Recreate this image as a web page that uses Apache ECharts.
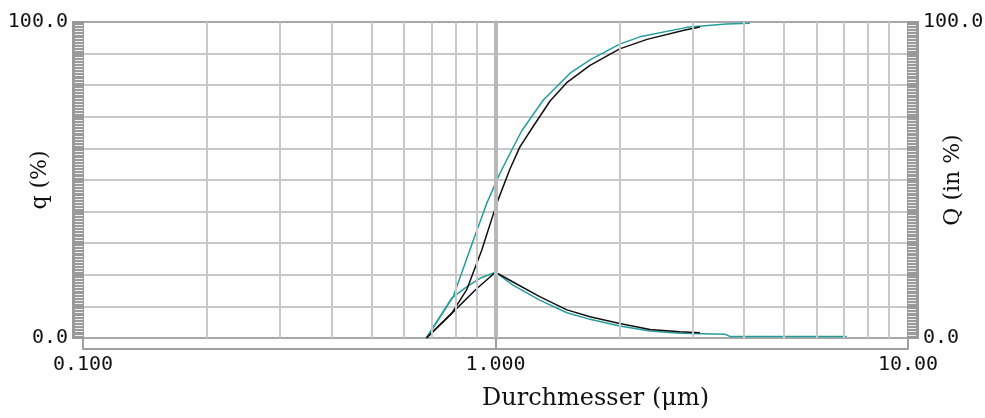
<!DOCTYPE html>
<html>
<head>
<meta charset="utf-8">
<script src="https://cdn.jsdelivr.net/npm/echarts@6/dist/echarts.min.js"></script>
<style>
  html, body { margin: 0; padding: 0; background: #fff; }
  #chart { width: 985px; height: 418px; }
</style>
</head>
<body>
<div id="chart"></div>
<script>
// particle size distribution, density q and cumulative Q
var tealQdX = [0.68, 0.783, 0.851, 0.917, 1.0, 1.10, 1.28, 1.49, 1.695, 2.0, 2.37, 2.8, 3.6, 3.7, 7.1];
var tealQdY = [0, 12.6, 16.2, 18.9, 20.8, 16.8, 12.0, 8.0, 5.9, 3.8, 2.2, 1.5, 1.2, 0.5, 0.5];
var blackQdX = [0.68, 0.783, 0.90, 1.0, 1.10, 1.28, 1.49, 1.695, 2.0, 2.37, 2.8, 3.13];
var blackQdY = [0, 7.8, 15.6, 20.8, 17.8, 13.1, 8.9, 6.7, 4.6, 2.7, 2.0, 1.7];
var tealCumX = [0.68, 0.79, 0.884, 0.952, 1.025, 1.095, 1.157, 1.306, 1.516, 1.695, 2.0, 2.24, 2.91, 3.63, 4.14];
var tealCumY = [0, 13.1, 31.0, 42.6, 52.1, 59.5, 65.5, 75.3, 83.8, 88.0, 93.0, 95.3, 98.3, 99.4, 99.6];
var blackCumX = [0.68, 0.783, 0.851, 0.926, 1.007, 1.084, 1.146, 1.235, 1.356, 1.488, 1.695, 2.0, 2.33, 2.88, 3.13];
var blackCumY = [0, 7.8, 15.2, 27.8, 42.6, 53.5, 60.5, 67.0, 75.0, 80.8, 86.3, 91.5, 94.5, 97.5, 98.4];

var minorGridX = [0.2, 0.3, 0.4, 0.5, 0.6, 0.7, 0.8, 0.9, 2, 3, 4, 5, 6, 7, 8, 9];
var xTickLabels = { '0.1': '0.100', '1': '1.000', '10': '10.00' };

var TEAL = '#259d9d';
var BLACK = '#111111';
var GRID = '#c8c8c8';
var monoFont = '"DejaVu Sans Mono", monospace';
var serifFont = '"DejaVu Serif", serif';

function pairs(xs, ys) {
  var out = [];
  for (var i = 0; i < xs.length; i++) out.push([xs[i], ys[i]]);
  return out;
}

var gridLines = minorGridX.map(function (v) {
  return { xAxis: v, lineStyle: { color: GRID, width: 2, type: 'solid' } };
});
gridLines.push({ xAxis: 1, lineStyle: { color: '#b8b8b8', width: 4, type: 'solid' } });

function lineSeries(data, color, z) {
  return {
    type: 'line', data: data, showSymbol: false, symbol: 'none',
    lineStyle: { color: color, width: 1.5 }, z: z, silent: true
  };
}

var yLabelFmt = function (v) { return (v === 0 || v === 100) ? v.toFixed(1) : ''; };
var hLineColors = ['#a8a8a8', GRID, GRID, GRID, GRID, GRID, GRID, GRID, GRID, GRID, '#a8a8a8'];

var chart = echarts.init(document.getElementById('chart'));
chart.setOption({
  animation: false,
  backgroundColor: '#fff',
  grid: { left: 83, right: 77, top: 22, bottom: 80, containLabel: false, outerBoundsMode: 'none' },
  xAxis: {
    type: 'log', logBase: 10, min: 0.1, max: 10,
    position: 'bottom', offset: 11,
    axisLine: { show: true, onZero: false, lineStyle: { color: '#a0a0a0', width: 2 } },
    axisTick: { show: true, inside: true, length: 11, lineStyle: { color: '#a0a0a0', width: 2 } },
    splitLine: { show: false },
    axisLabel: {
      margin: 6, color: '#111', fontFamily: monoFont, fontSize: 20,
      formatter: function (v) { return xTickLabels[String(v)] || ''; }
    },
    name: 'Durchmesser (\u03bcm)', nameLocation: 'middle', nameGap: 38, nameMoveOverlap: false,
    nameTextStyle: { fontFamily: serifFont, fontSize: 24, color: '#111', padding: [0, 0, 0, 200] }
  },
  yAxis: [
    {
      type: 'value', min: 0, max: 100, interval: 10, position: 'left',
      axisLine: { show: true, lineStyle: { color: '#999', width: 2 } },
      axisTick: { show: true, length: 11, lineStyle: { color: '#999', width: 2 } },
      minorTick: { show: true, splitNumber: 10, length: 8, lineStyle: { color: '#eeeeee', width: 1 } },
      splitLine: { show: true, lineStyle: { color: hLineColors, width: 2 } },
      axisLabel: { margin: 15, color: '#111', fontFamily: monoFont, fontSize: 20, formatter: yLabelFmt },
      name: 'q (%)', nameLocation: 'middle', nameGap: 32, nameRotate: 90, nameMoveOverlap: false,
      nameTextStyle: { fontFamily: serifFont, fontSize: 22, color: '#111' }
    },
    {
      type: 'value', min: 0, max: 100, interval: 10, position: 'right',
      axisLine: { show: true, lineStyle: { color: '#999', width: 2 } },
      axisTick: { show: true, length: 11, lineStyle: { color: '#999', width: 2 } },
      minorTick: { show: true, splitNumber: 10, length: 8, lineStyle: { color: '#eeeeee', width: 1 } },
      splitLine: { show: false },
      axisLabel: { margin: 15, color: '#111', fontFamily: monoFont, fontSize: 20, formatter: yLabelFmt },
      name: 'Q (in %)', nameLocation: 'middle', nameGap: 34, nameRotate: 90, nameMoveOverlap: false,
      nameTextStyle: { fontFamily: serifFont, fontSize: 22, color: '#111' }
    },
    {
      // left ruler strip
      type: 'value', min: 0, max: 100, position: 'left', offset: 5.5, z: -1,
      axisLine: { show: true, lineStyle: { color: '#9a9a9a', width: 11, cap: 'butt' } },
      axisTick: { show: false }, axisLabel: { show: false }, splitLine: { show: false }
    },
    {
      // right ruler strip
      type: 'value', min: 0, max: 100, position: 'right', offset: 5.5, z: -1,
      axisLine: { show: true, lineStyle: { color: '#9a9a9a', width: 11, cap: 'butt' } },
      axisTick: { show: false }, axisLabel: { show: false }, splitLine: { show: false }
    }
  ],
  series: [
    {
      type: 'line', data: [], z: 1, silent: true,
      markLine: {
        silent: true, symbol: ['none', 'none'], label: { show: false },
        animation: false, data: gridLines
      }
    },
    lineSeries(pairs(tealQdX, tealQdY), TEAL, 2),
    lineSeries(pairs(tealCumX, tealCumY), TEAL, 2),
    lineSeries(pairs(blackQdX, blackQdY), BLACK, 3),
    lineSeries(pairs(blackCumX, blackCumY), BLACK, 3)
  ]
});
</script>
</body>
</html>
